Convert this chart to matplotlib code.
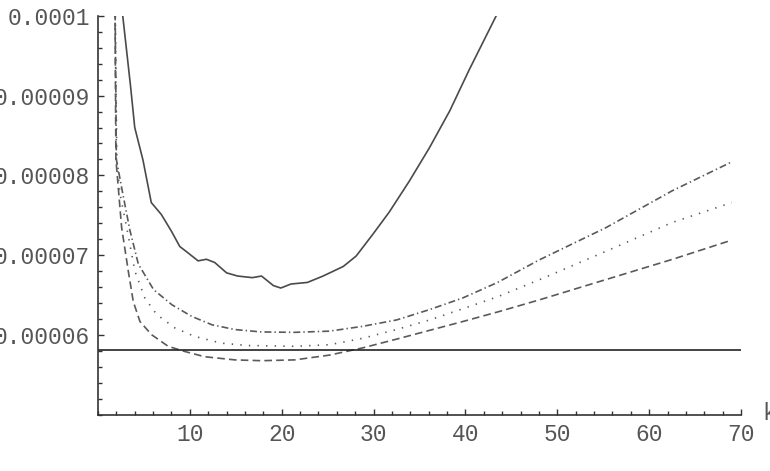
#!/usr/bin/env python3
"""
Error curves vs k (Mathematica-style line plot)
"""
import matplotlib
matplotlib.use('Agg')
import matplotlib.pyplot as plt
from matplotlib.ticker import MultipleLocator, FixedLocator, FixedFormatter

# ----------------------------------------------------------------------------
# Data (y in units of 1e-6)
# ----------------------------------------------------------------------------
solid_k = [2.5, 3.55, 4.0, 4.9, 5.8, 6.9, 8.0, 8.9, 9.8, 10.9, 11.8, 12.7,
           14.0, 15.2, 16.8, 17.8, 19.1, 19.9, 21.0, 22.8, 24.5, 26.7, 28.1,
           29.9, 31.7, 33.9, 36.1, 38.3, 40.4, 43.4]
solid_y = [102.0, 91.1, 86.0, 81.9, 76.6, 75.1, 73.0, 71.1, 70.3, 69.3, 69.5,
           69.1, 67.8, 67.4, 67.2, 67.4, 66.2, 65.9, 66.4, 66.6, 67.4, 68.6,
           69.9, 72.6, 75.4, 79.3, 83.5, 88.1, 93.2, 100.1]

dashdot_k = [1.8, 2.0, 2.75, 3.48, 4.39, 6.05, 8.05, 10.2, 12.4, 14.9, 17.8,
             21.4, 25.2, 28.8, 32.5, 36.1, 39.7, 43.5, 48.0, 55.3, 62.5, 69.0]
dashdot_y = [110.0, 82.0, 77.4, 73.1, 68.9, 65.7, 63.8, 62.35, 61.3, 60.7,
             60.4, 60.35, 60.5, 61.1, 61.9, 63.2, 64.65, 66.6, 69.4, 73.46,
             78.07, 81.7]

dotted_k = [1.8, 2.05, 2.39, 3.12, 4.02, 5.1, 6.38, 8.37, 10.5, 13.4, 16.3,
            21.4, 25.2, 28.8, 32.5, 36.1, 39.7, 43.5, 48.6, 55.3, 62.5, 69.0]
dotted_y = [110.0, 82.0, 77.7, 73.5, 68.0, 64.65, 62.6, 60.9, 59.85, 59.0,
            58.7, 58.6, 58.8, 59.6, 60.7, 61.9, 63.3, 64.8, 67.2, 70.5,
            74.1, 76.6]

dashed_k = [1.8, 1.95, 2.57, 3.3, 3.84, 4.57, 5.84, 7.64, 9.46, 11.6, 14.9,
            17.8, 21.4, 25.2, 28.8, 32.5, 36.1, 39.7, 43.5, 48.0, 55.3, 62.5,
            69.0]
dashed_y = [110.0, 82.0, 73.5, 68.0, 64.2, 61.7, 60.05, 58.6, 57.95, 57.3,
            56.9, 56.8, 56.9, 57.5, 58.4, 59.5, 60.6, 61.7, 62.9, 64.4,
            66.96, 69.48, 71.9]

ref_level = 58.1  # horizontal reference line

x_ticks = [10, 20, 30, 40, 50, 60, 70]
x_labels = ['10', '20', '30', '40', '50', '60', '70']
y_ticks = [60, 70, 80, 90, 100]
y_labels = ['0.00006', '0.00007', '0.00008', '0.00009', '0.0001']

scale = 1e-6

# ----------------------------------------------------------------------------
# Plot
# ----------------------------------------------------------------------------
plt.rcParams['font.family'] = ['Liberation Mono', 'DejaVu Sans Mono']
plt.rcParams['lines.scale_dashes'] = False

fig = plt.figure(figsize=(7.7, 4.71), dpi=100)
ax = fig.add_axes([98 / 770, 1 - 415 / 471, 643 / 770, (415 - 15.7) / 471])

line_col = '#5a5a5a'
ax.plot(solid_k, [v * scale for v in solid_y], '-', color='#4a4a4a', lw=1.2)
ax.plot(dashdot_k, [v * scale for v in dashdot_y], color=line_col, lw=1.2,
        linestyle=(0, (5, 2.2, 1, 2.2)))
ax.plot(dotted_k, [v * scale for v in dotted_y], color=line_col, lw=1.2,
        linestyle=(0, (1, 5.2)))
ax.plot(dashed_k, [v * scale for v in dashed_y], color=line_col, lw=1.2,
        linestyle=(0, (5.5, 3)))
ax.axhline(ref_level * scale, color='#222222', lw=1.2)

ax.set_xlim(0, 70)
ax.set_ylim(50 * scale, 100 * scale)

# Mathematica-like axes: left/bottom only, ticks pointing inward
for side in ['top', 'right']:
    ax.spines[side].set_visible(False)
for side in ['left', 'bottom']:
    ax.spines[side].set_color('#333333')
    ax.spines[side].set_linewidth(1.2)

ax.xaxis.set_major_locator(FixedLocator(x_ticks))
ax.xaxis.set_major_formatter(FixedFormatter(x_labels))
ax.xaxis.set_minor_locator(MultipleLocator(2))
ax.yaxis.set_major_locator(FixedLocator([v * scale for v in y_ticks]))
ax.yaxis.set_major_formatter(FixedFormatter(y_labels))
ax.yaxis.set_minor_locator(MultipleLocator(2 * scale))

ax.tick_params(which='both', direction='in', color='#333333', width=1.0,
               labelsize=16.5, labelcolor='#555555')
ax.tick_params(which='major', length=4.5, pad=6)
ax.tick_params(which='minor', length=3)

ax.text(1.034, -0.012, 'k', transform=ax.transAxes, fontsize=16.5,
        color='#555555', ha='left', va='baseline', clip_on=False)

fig.savefig('out.png', dpi=100)
plt.close(fig)
